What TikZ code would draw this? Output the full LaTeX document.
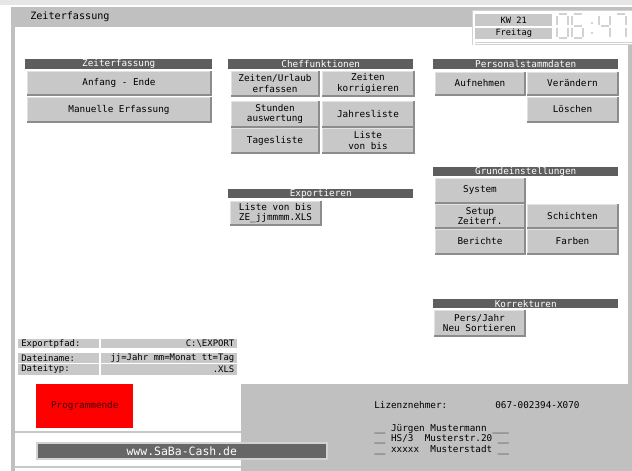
\documentclass[tikz,border=0pt]{standalone}
\usepackage{fontspec}
\newfontfamily\pix{DejaVu Sans Mono}
\definecolor{topg}{HTML}{E6E6E6}
\definecolor{barg}{HTML}{C0C0C0}
\definecolor{btng}{HTML}{C8C8C8}
\definecolor{hdrg}{HTML}{5E5E5E}
\definecolor{edgedark}{HTML}{8C8C8C}
\definecolor{edgelight}{HTML}{E2E2E2}
\definecolor{clk}{HTML}{D2D2D2}
\definecolor{sepg}{HTML}{C8C8C8}
\definecolor{endred}{HTML}{FF0000}
\definecolor{endtxt}{HTML}{400000}
\tikzset{
  hdr/.style={fill=hdrg, text=white, inner sep=0pt, font=\pix\fontsize{7}{7.5}\selectfont},
  btn/.style={fill=btng, draw=edgelight, line width=0.75pt, inner sep=0pt, align=center, font=\pix\fontsize{7}{7.6}\selectfont},
  btnshade/.style={draw=edgedark, line width=0.9pt},
  infocell/.style={fill=btng, inner sep=0pt, font=\pix\fontsize{6.7}{7}\selectfont},
  celltxt/.style={fill=btng, inner sep=0pt, font=\pix\fontsize{6.5}{7}\selectfont},
  lic/.style={inner sep=0pt, anchor=west, font=\pix\fontsize{7}{8}\selectfont},
  clkline/.style={draw=clk, line width=1.1pt},
  sepline/.style={draw=sepg, line width=1.5pt}
}
\newcommand\UiBox[7]{%
  \pgfmathsetmacro\bw{(#4-#2)*0.75}\pgfmathsetmacro\bh{(#5-#3)*0.75}%
  \node[#1, anchor=north west, minimum width=\bw pt, minimum height=\bh pt] (#6) at (#2,#3) {#7};}
\newcommand\UiBtn[6]{%
  \UiBox{btn}{#1}{#2}{#3}{#4}{#5}{#6}%
  \draw[btnshade] (#5.south west) -- (#5.south east) -- (#5.north east);}
\newcommand\UiInfo[7]{%
  \pgfmathsetmacro\tw{(#4-#2-6)*0.75}\pgfmathsetmacro\bw{(#4-#2)*0.75}\pgfmathsetmacro\bh{(#5-#3)*0.75}%
  \node[infocell, anchor=north west, minimum width=\bw pt, minimum height=\bh pt] (#6) at (#2,#3) {\makebox[\tw pt][#1]{#7}};}
\newcommand\segA[1]{\draw[clkline] ({#1+1.5},14) -- ({#1+9.5},14);}
\newcommand\segB[1]{\draw[clkline] ({#1+11},15.5) -- ({#1+11},24.5);}
\newcommand\segC[1]{\draw[clkline] ({#1+11},27.5) -- ({#1+11},36.5);}
\newcommand\segD[1]{\draw[clkline] ({#1+1.5},38) -- ({#1+9.5},38);}
\newcommand\segE[1]{\draw[clkline] (#1,27.5) -- (#1,36.5);}
\newcommand\segF[1]{\draw[clkline] (#1,15.5) -- (#1,24.5);}
\newcommand\segG[1]{\draw[clkline] ({#1+1.5},26) -- ({#1+9.5},26);}
\begin{document}
\begin{tikzpicture}[x=0.75pt,y=-0.75pt]
\useasboundingbox (0,0) rectangle (632,471);
% background and window frame
\fill[white] (0,0) rectangle (632,471);
\fill[topg] (0,0) rectangle (632,5);
\fill[barg] (11,7) rectangle (632,471);
\fill[white] (15,27) rectangle (628,384);
\fill[white] (15,384) rectangle (241,471);
\draw[sepline] (15,432) -- (241,432);
\draw[sepline] (15,467) -- (241,467);
% title
\node[lic, font=\pix\fontsize{7.6}{8}\selectfont] (title) at (30,17) {Zeiterfassung};
% clock box
\fill[white] (472,10) rectangle (632,45);
\draw[draw=clk, line width=0.75pt] (472,45) -- (472,10.5) -- (632,10.5);
\draw[draw=clk, line width=0.75pt] (475,42) -- (632,42);
\draw[draw=clk, line width=0.75pt] (475,44.5) -- (632,44.5);
\UiBox{celltxt}{475}{14}{552}{26}{cKW}{KW 21}
\UiBox{celltxt}{475}{28}{552}{38.5}{cTag}{Freitag}
% digital clock 06:47
\segA{557}\segB{557}\segC{557}\segD{557}\segE{557}\segF{557}
\segA{572}\segC{572}\segD{572}\segE{572}\segF{572}\segG{572}
\fill[clk] (590.5,22) rectangle (592.5,24);
\fill[clk] (590.5,32) rectangle (592.5,34);
\segB{599}\segC{599}\segF{599}\segG{599}
\segA{615}\segB{615}\segC{615}
% section headers
\UiBox{hdr}{25}{59}{212}{68.5}{hZeit}{Zeiterfassung}
\UiBox{hdr}{228}{59}{413}{68.5}{hChef}{Cheffunktionen}
\UiBox{hdr}{433}{59}{618}{68.5}{hPers}{Personalstammdaten}
\UiBox{hdr}{228}{189}{413}{198}{hExp}{Exportieren}
\UiBox{hdr}{433}{167}{618}{176}{hGrund}{Grundeinstellungen}
\UiBox{hdr}{433}{299}{618}{308}{hKorr}{Korrekturen}
% Zeiterfassung
\UiBtn{27}{71}{210}{94}{bAnf}{Anfang - Ende}
\UiBtn{27}{97}{210}{121}{bMan}{Manuelle Erfassung}
% Cheffunktionen
\UiBtn{231}{71}{318}{95}{bZU}{Zeiten/Urlaub\\erfassen}
\UiBtn{322}{71}{413}{95}{bZK}{Zeiten\\korrigieren}
\UiBtn{231}{101}{318}{126}{bStd}{Stunden\\auswertung}
\UiBtn{322}{101}{413}{126}{bJahr}{Jahresliste}
\UiBtn{231}{128}{318}{152}{bTag}{Tagesliste}
\UiBtn{322}{128}{413}{152}{bLvb}{Liste\\von bis}
% Personalstammdaten
\UiBtn{435}{72}{524}{94}{bAuf}{Aufnehmen}
\UiBtn{527}{72}{617}{94}{bVer}{Verändern}
\UiBtn{527}{97}{617}{121}{bLoe}{Löschen}
% Exportieren
\UiBtn{230}{201}{320}{224}{bExp}{Liste von bis\\ZE\_jjmmmm.XLS}
% Grundeinstellungen
\UiBtn{435}{178}{524}{202}{bSys}{System}
\UiBtn{435}{204}{524}{227}{bSetup}{Setup\\Zeiterf.}
\UiBtn{527}{204}{617}{227}{bSchi}{Schichten}
\UiBtn{435}{229}{524}{253}{bBer}{Berichte}
\UiBtn{527}{229}{617}{253}{bFarb}{Farben}
% Korrekturen
\UiBtn{434}{310}{524}{335}{bKorr}{Pers/Jahr\\Neu Sortieren}
% export info
\UiInfo{l}{18}{339}{99}{348}{iPfadL}{Exportpfad:}
\UiInfo{r}{101}{339}{237}{348}{iPfadV}{C:\textbackslash EXPORT}
\UiInfo{l}{18}{353}{99}{362.5}{iNameL}{Dateiname:}
\UiInfo{r}{101}{353}{237}{362.5}{iNameV}{jj=Jahr mm=Monat tt=Tag}
\UiInfo{l}{18}{363.5}{99}{375}{iTypL}{Dateityp:}
\UiInfo{r}{101}{363.5}{237}{375}{iTypV}{.XLS}
% Programmende
\UiBox{fill=endred, text=endtxt, inner sep=0pt, font=\pix\fontsize{7}{8}\selectfont}{36}{384}{133}{428}{pEnd}{Programmende}
% website bar
\UiBox{fill=hdrg!95!white, draw=clk, line width=1.2pt, text=white, inner sep=0pt, font=\pix\fontsize{8.6}{9}\selectfont}{36}{442}{326}{458}{wBar}{www.SaBa-Cash.de}
% licence
\node[lic] (lLiz) at (374,405) {Lizenznehmer:};
\node[lic] (lNum) at (495,405) {067-002394-X070};
\node[lic] (l1) at (374,429) {\_\_ Jürgen Mustermann \_\_\_};
\node[lic] (l2) at (374,439.5) {\_\_ HS/3\ \ Musterstr.20 \_\_};
\node[lic] (l3) at (374,450) {\_\_ xxxxx\ \ Musterstadt \_\_};
\end{tikzpicture}
\end{document}
